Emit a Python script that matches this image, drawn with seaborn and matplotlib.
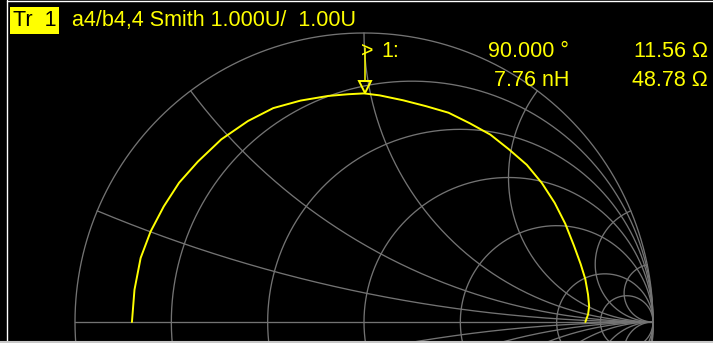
import numpy as np
import pandas as pd
import matplotlib
matplotlib.use("Agg")
import matplotlib.pyplot as plt
from matplotlib.lines import Line2D
from matplotlib import font_manager
import seaborn as sns

# ---------------- data ----------------
resistance_values = [0.0, 0.2, 0.5, 1.0, 2.0, 5.0, 10.0]
reactance_values = [0.2, 0.5, 1.0, 2.0, 5.0, 10.0, -0.2, -0.5, -1.0, -2.0, -5.0, -10.0]

trace_angle_deg = [180, 172, 164, 157, 150, 143, 136, 128, 120, 113, 106, 99, 94, 90,
                   86, 80, 74, 68, 62, 56, 50, 44, 38, 32, 26, 20, 15, 11, 7, 4, 2, 0]
trace_mag = [0.803, 0.802, 0.804, 0.802, 0.800, 0.801, 0.799, 0.802, 0.803, 0.804, 0.797,
             0.792, 0.790, 0.791, 0.786, 0.779, 0.777, 0.781, 0.779, 0.782, 0.780, 0.783,
             0.781, 0.778, 0.775, 0.773, 0.776, 0.780, 0.781, 0.781, 0.776, 0.766]

marker_resistance_ohm = 11.56
marker_reactance_ohm = 48.78
z0_ohm = 50.0

header_label = "a4/b4,4 Smith 1.000U/  1.00U"
trace_label = "Tr  1"
marker_name = "1:"
readout_col1 = ["90.000 \u00b0", "7.76 nH"]
readout_col2 = ["11.56 \u03a9", "48.78 \u03a9"]

# ---------------- style / layout ----------------
W, H = 713, 343
CX, CY, RPX = 364, 322, 289
GRID = "#737373"
YEL = "#ffff00"

names = {f.name for f in font_manager.fontManager.ttflist}
if "Liberation Sans Narrow" in names:
    FONT = ["Liberation Sans Narrow", "DejaVu Sans"]
    FS = 15
else:
    FONT = ["Liberation Sans", "DejaVu Sans"]
    FS = 15.5

sns.set_theme(style="dark")
plt.rcParams["font.family"] = FONT

fig = plt.figure(figsize=(W / 100, H / 100), dpi=100, facecolor="black")
ax = fig.add_axes([0, 0, 1, 1])
ax.set_facecolor("black")

# build grid curves (Smith chart geometry)
rows = []
cid = 0
t = np.linspace(0, 2 * np.pi, 1441)
for r in resistance_values:
    c = r / (1 + r)
    rad = 1 / (1 + r)
    for gx, gy in zip(c + rad * np.cos(t), rad * np.sin(t)):
        rows.append((cid, gx, gy))
    cid += 1
rr = np.concatenate([[0.0], np.logspace(-3, 4, 900)])
for x in reactance_values + [0.0]:
    g = (rr + 1j * x - 1) / (rr + 1j * x + 1)
    for gx, gy in zip(g.real, g.imag):
        rows.append((cid, gx, gy))
    cid += 1
grid_df = pd.DataFrame(rows, columns=["curve", "gx", "gy"])

sns.lineplot(data=grid_df, x="gx", y="gy", units="curve", estimator=None, sort=False,
             color=GRID, lw=0.95, ax=ax, legend=False)

# trace
ang = np.deg2rad(np.array(trace_angle_deg))
mag = np.array(trace_mag)
trace_df = pd.DataFrame({"gx": mag * np.cos(ang), "gy": mag * np.sin(ang)})
sns.lineplot(data=trace_df, x="gx", y="gy", sort=False, estimator=None,
             color=YEL, lw=1.4, ax=ax)

# marker
zm = complex(marker_resistance_ohm, marker_reactance_ohm) / z0_ohm
gm = (zm - 1) / (zm + 1)
off = 1 / RPX
ax.plot([gm.real], [gm.imag + 6.5 * off], marker="v", ms=9, mfc="none", mec=YEL, mew=1.4)
ax.plot([gm.real, gm.real], [gm.imag + 13 * off, gm.imag + 45 * off], color=YEL, lw=1.1)

ax.set_xlim(-CX / RPX, (W - CX) / RPX)
ax.set_ylim(-(H - CY) / RPX, CY / RPX)
ax.set_aspect("equal")
ax.axis("off")


def fx(px):
    return px / W


def fy(py):
    return 1 - py / H


# header
fig.text(fx(13), fy(26), trace_label, color="black", fontsize=FS, ha="left", va="baseline",
         bbox=dict(boxstyle="square,pad=0.12", fc=YEL, ec="none"))
fig.text(fx(72), fy(26), header_label, color=YEL, fontsize=FS, ha="left", va="baseline")

# readout
fig.text(fx(361), fy(57), ">", color=YEL, fontsize=FS, ha="left", va="baseline")
fig.text(fx(381), fy(57), marker_name, color=YEL, fontsize=FS, ha="left", va="baseline")
for i, (a, b) in enumerate(zip(readout_col1, readout_col2)):
    yb = 57 + 29 * i
    fig.text(fx(569), fy(yb), a, color=YEL, fontsize=FS, ha="right", va="baseline")
    fig.text(fx(708), fy(yb), b, color=YEL, fontsize=FS, ha="right", va="baseline")

# frame lines
fig.add_artist(Line2D([fx(7), fx(7)], [fy(0), fy(342)], color="white", lw=1.0))
fig.add_artist(Line2D([fx(7), fx(713)], [fy(0.5), fy(0.5)], color="white", lw=1.0))
fig.add_artist(Line2D([fx(0), fx(713)], [fy(341.5), fy(341.5)], color="#c8c8c8", lw=1.5))

fig.savefig("out.png", dpi=100, facecolor="black")
